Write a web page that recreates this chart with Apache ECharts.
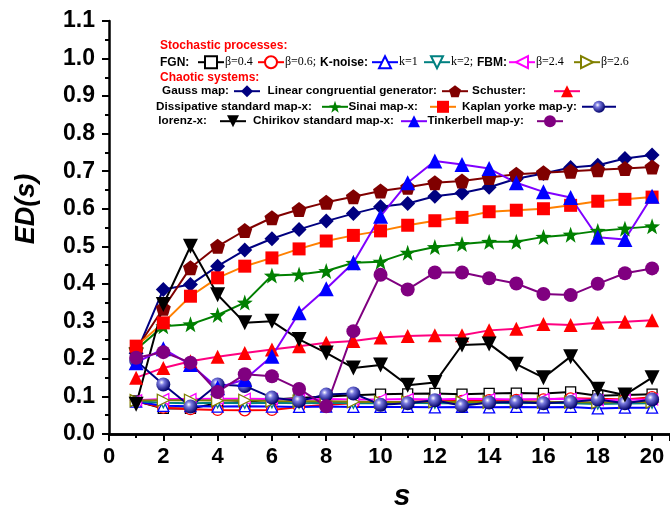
<!DOCTYPE html>
<html>
<head>
<meta charset="utf-8">
<script src="https://cdn.jsdelivr.net/npm/echarts@6.0.0/dist/echarts.min.js"></script>
<style>
html, body { margin: 0; padding: 0; background: #fff; }
#chart { width: 670px; height: 510px; }
</style>
</head>
<body>
<div id="chart"></div>
<script>
// scale s = 1..20
var steps = [1,2,3,4,5,6,7,8,9,10,11,12,13,14,15,16,17,18,19,20];

// stochastic processes
var fgn04 = [0.088,0.068,0.068,0.082,0.085,0.092,0.096,0.100,0.103,0.106,0.107,0.108,0.106,0.108,0.109,0.108,0.112,0.102,0.104,0.106];
var fgn06 = [0.087,0.070,0.066,0.064,0.063,0.064,0.072,0.078,0.082,0.085,0.086,0.088,0.088,0.090,0.091,0.092,0.095,0.094,0.092,0.098];
var knoise1 = [0.086,0.075,0.074,0.073,0.074,0.073,0.072,0.073,0.072,0.072,0.072,0.071,0.072,0.071,0.072,0.071,0.072,0.068,0.070,0.070];
var knoise2 = [0.087,0.083,0.082,0.083,0.082,0.083,0.082,0.083,0.082,0.082,0.083,0.082,0.082,0.083,0.082,0.083,0.082,0.080,0.081,0.082];
var fbm24 = [0.090,0.093,0.093,0.094,0.094,0.093,0.092,0.093,0.092,0.092,0.093,0.092,0.094,0.093,0.092,0.093,0.094,0.090,0.091,0.092];
var fbm26 = [0.089,0.090,0.090,0.089,0.090,0.088,0.087,0.087,0.086,0.085,0.085,0.086,0.085,0.085,0.086,0.085,0.085,0.084,0.085,0.085];

// chaotic systems
var gauss = [0.215,0.385,0.398,0.447,0.490,0.520,0.545,0.567,0.587,0.605,0.614,0.633,0.642,0.657,0.680,0.694,0.710,0.716,0.734,0.743];
var lcg = [0.225,0.335,0.443,0.500,0.542,0.576,0.598,0.617,0.632,0.647,0.657,0.669,0.674,0.683,0.692,0.696,0.700,0.704,0.707,0.711];
var schuster = [0.150,0.176,0.194,0.206,0.216,0.225,0.234,0.243,0.248,0.257,0.261,0.263,0.263,0.276,0.280,0.293,0.290,0.296,0.299,0.303];
var dissipative = [0.225,0.287,0.292,0.317,0.350,0.422,0.425,0.434,0.456,0.459,0.483,0.498,0.506,0.512,0.512,0.525,0.531,0.541,0.547,0.553];
var sinai = [0.234,0.296,0.367,0.416,0.447,0.469,0.493,0.514,0.529,0.541,0.556,0.568,0.577,0.592,0.596,0.600,0.609,0.620,0.625,0.631];
var kaplan = [0.195,0.132,0.073,0.132,0.128,0.097,0.088,0.105,0.108,0.078,0.082,0.090,0.075,0.084,0.085,0.082,0.085,0.092,0.082,0.092];
var lorenz = [0.079,0.345,0.500,0.371,0.296,0.300,0.252,0.216,0.176,0.184,0.130,0.137,0.237,0.240,0.186,0.150,0.206,0.119,0.104,0.150];
var chirikov = [0.190,0.227,0.185,0.123,0.145,0.207,0.323,0.387,0.456,0.580,0.669,0.727,0.718,0.707,0.669,0.645,0.630,0.524,0.518,0.633];
var tinkerbell = [0.203,0.218,0.190,0.112,0.159,0.154,0.120,0.074,0.274,0.424,0.385,0.430,0.430,0.415,0.401,0.373,0.370,0.400,0.428,0.441];

var chart = echarts.init(document.getElementById('chart'));

var PENTAGON = 'path://M0,-10L9.51,-3.09L5.88,8.09L-5.88,8.09L-9.51,-3.09Z';
var STAR = 'path://M0,-10L2.35,-3.24L9.51,-3.09L3.8,1.24L5.88,8.09L0,4L-5.88,8.09L-3.8,1.24L-9.51,-3.09L-2.35,-3.24Z';
var TRI_DOWN = 'path://M-10,-8L10,-8L0,9Z';
var TRI_LEFT = 'path://M-9,0L8,-10L8,10Z';
var TRI_RIGHT = 'path://M9,0L-8,-10L-8,10Z';

var sphere = {
    type: 'radial', x: 0.38, y: 0.35, r: 0.65,
    colorStops: [
        {offset: 0, color: '#ffffff'},
        {offset: 0.3, color: '#7a7ae0'},
        {offset: 1, color: '#00006a'}
    ]
};

function pairs(vals) {
    return vals.map(function (v, i) { return [steps[i], v]; });
}

// line series helper
function line(name, vals, symbol, size, lineColor, fill, border) {
    return {
        name: name,
        type: 'line',
        data: pairs(vals),
        symbol: symbol,
        symbolSize: size,
        showAllSymbol: true,
        lineStyle: {color: lineColor, width: 2},
        itemStyle: {color: fill, borderColor: border || fill, borderWidth: border ? 1.3 : 0, opacity: 1},
        emphasis: {disabled: true}
    };
}

var series = [
    line('β=0.4', fgn04, 'rect', 10, '#000000', '#ffffff', '#000000'),
    line('β=0.6', fgn06, 'circle', 11, '#ff0000', '#ffffff', '#ff0000'),
    line('k=1', knoise1, 'triangle', 11, '#0000ff', '#ffffff', '#0000ff'),
    line('k=2', knoise2, TRI_DOWN, 10, '#008080', '#ffffff', '#008080'),
    line('β=2.4', fbm24, TRI_LEFT, 11, '#ff00ff', '#ffffff', '#ff00ff'),
    line('β=2.6', fbm26, TRI_RIGHT, 12, '#808000', '#ffffff', '#808000'),
    line('Gauss map:', gauss, 'diamond', 15, '#000080', '#000080'),
    line('Linear congruential generator:', lcg, PENTAGON, 15, '#800000', '#800000'),
    line('Schuster:', schuster, 'triangle', 14, '#ff0080', '#ff0000'),
    line('Dissipative standard map-x:', dissipative, STAR, 16, '#008000', '#008000'),
    line('Sinai map-x:', sinai, 'rect', 13, '#ff8000', '#ff0000'),
    line('Kaplan yorke map-y:', kaplan, 'circle', 14, '#000080', sphere),
    line('lorenz-x:', lorenz, TRI_DOWN, 15, '#000000', '#000000'),
    line('Chirikov standard map-x:', chirikov, 'triangle', 15, '#8000ff', '#0000ff'),
    line('Tinkerbell map-y:', tinkerbell, 'circle', 14, '#800080', '#800080')
];

// legend placement: icon start x, row centre y, extra gap text->icon
var stochKeys = [
    {name: 'β=0.4', icon: 197},
    {name: 'β=0.6', icon: 257, tail: ';'},
    {name: 'k=1', icon: 371},
    {name: 'k=2', icon: 423, tail: ';'},
    {name: 'β=2.4', icon: 508},
    {name: 'β=2.6', icon: 573}
];
var chaosKeys = [
    {name: 'Gauss map:', icon: 235, y: 92.7, gap: 0},
    {name: 'Linear congruential generator:', icon: 443, y: 92.7, gap: 0},
    {name: 'Schuster:', icon: 555, y: 92.7, gap: 23},
    {name: 'Dissipative standard map-x:', icon: 323, y: 108.3, gap: 5},
    {name: 'Sinai map-x:', icon: 431, y: 108.3, gap: 7},
    {name: 'Kaplan yorke map-y:', icon: 583, y: 108.3, gap: 0, w: 34},
    {name: 'lorenz-x:', icon: 221, y: 122.7, gap: 8},
    {name: 'Chirikov standard map-x:', icon: 402, y: 122.7, gap: 2},
    {name: 'Tinkerbell map-y:', icon: 538, y: 122.7, gap: 8}
];

var legends = [];
stochKeys.forEach(function (k) {
    legends.push({
        data: [k.name],
        left: k.icon, top: 62.7 - 7.5,
        padding: 0, itemWidth: 26, itemHeight: 15, align: 'left',
        formatter: function (n) { return n + (k.tail || ''); },
        textStyle: {fontFamily: 'Liberation Serif', fontSize: 12, color: '#000', padding: [0, 0, 0, -4]}
    });
});
chaosKeys.forEach(function (k) {
    var w = k.w || 26;
    legends.push({
        data: [k.name],
        right: 670 - k.icon - w, top: k.y - 7.5,
        padding: 0, itemWidth: w, itemHeight: 15, align: 'right',
        textStyle: {fontFamily: 'Liberation Sans', fontWeight: 'bold', fontSize: 11.7, color: '#000', padding: [0, k.gap, 0, 0]}
    });
});

function txt(s, x, y, color, size, extra) {
    var style = {
        text: s, x: 0, y: 0, fill: color,
        font: (extra && extra.font) || ('bold ' + size + 'px "Liberation Sans", Arial, sans-serif'),
        align: (extra && extra.align) || 'left', verticalAlign: 'middle'
    };
    return {type: 'text', x: x, y: y, rotation: (extra && extra.rotation) || 0, style: style, z: 100};
}

option = {
    backgroundColor: '#ffffff',
    animation: false,
    grid: {left: 109, top: 21, right: 0, bottom: 76},
    legend: legends,
    graphic: [
        txt('Stochastic processes:', 160, 46, '#ff0000', 12),
        txt('FGN:', 160, 62.7, '#000', 12),
        txt('K-noise:', 320, 62.7, '#000', 12),
        txt('FBM:', 477, 62.7, '#000', 12),
        txt('Chaotic systems:', 160, 77.3, '#ff0000', 12),
        txt('ED(s)', 27, 209, '#000', 27, {font: 'italic bold 27px "Liberation Sans", Arial, sans-serif', align: 'center', rotation: Math.PI / 2}),
        txt('s', 402, 497, '#000', 30, {font: 'italic bold 30px "Liberation Sans", Arial, sans-serif', align: 'center'})
    ],
    xAxis: [{
        type: 'value',
        min: 0,
        max: 20.66,
        interval: 2,
        splitLine: {show: false},
        axisLine: {onZero: false, lineStyle: {color: '#000', width: 2.5}},
        axisTick: {length: 7, lineStyle: {color: '#000', width: 2}},
        minorTick: {show: true, splitNumber: 2, length: 4, lineStyle: {color: '#000', width: 2}},
        axisLabel: {
            showMaxLabel: false, margin: 12, color: '#000',
            fontFamily: 'Liberation Sans', fontWeight: 'bold', fontSize: 22
        }
    }, {
        type: 'value',
        position: 'top',
        min: 0, max: 20.66,
        axisLine: {show: true, lineStyle: {color: '#000', width: 2.5}},
        axisTick: {show: false},
        axisLabel: {show: false},
        splitLine: {show: false}
    }],
    yAxis: {
        type: 'value',
        min: 0,
        max: 1.1,
        interval: 0.1,
        splitLine: {show: false},
        axisLine: {show: true, lineStyle: {color: '#000', width: 2.5}},
        axisTick: {length: 7, lineStyle: {color: '#000', width: 2}},
        minorTick: {show: true, splitNumber: 2, length: 4, lineStyle: {color: '#000', width: 2}},
        axisLabel: {
            margin: 14, color: '#000',
            fontFamily: 'Liberation Sans', fontWeight: 'bold', fontSize: 23,
            formatter: function (v) { return v.toFixed(1); }
        }
    },
    series: series
};

chart.setOption(option);
</script>
</body>
</html>
